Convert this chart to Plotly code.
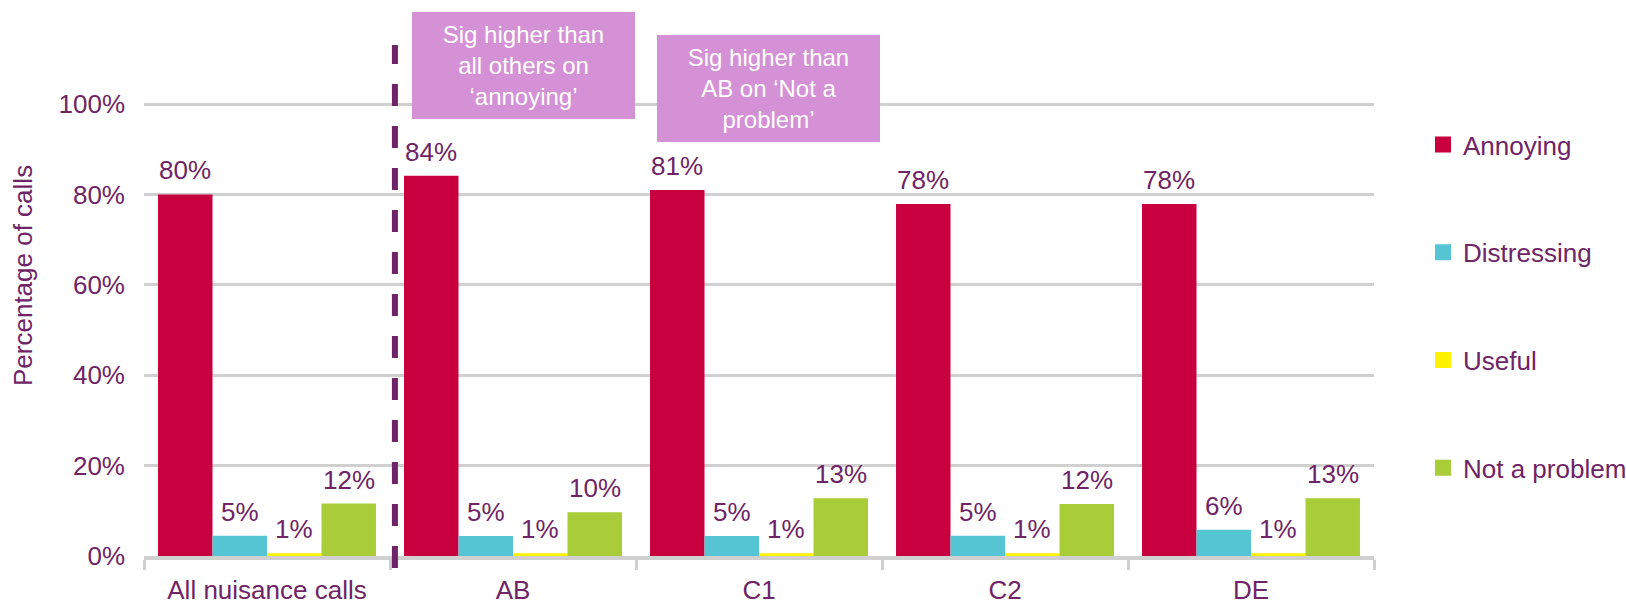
import plotly.graph_objects as go

categories = ["All nuisance calls", "AB", "C1", "C2", "DE"]
series_names = ["Annoying", "Distressing", "Useful", "Not a problem"]
annoying = [80.0, 84.1, 81.0, 77.9, 77.9]
distressing = [4.5, 4.4, 4.4, 4.5, 5.8]
useful = [0.6, 0.6, 0.6, 0.6, 0.6]
not_a_problem = [11.6, 9.7, 12.8, 11.5, 12.8]
annoying_labels = ["80%", "84%", "81%", "78%", "78%"]
distressing_labels = ["5%", "5%", "5%", "5%", "6%"]
useful_labels = ["1%", "1%", "1%", "1%", "1%"]
not_a_problem_labels = ["12%", "10%", "13%", "12%", "13%"]
y_tick_values = [0, 20, 40, 60, 80, 100]
y_tick_labels = ["0%", "20%", "40%", "60%", "80%", "100%"]
y_axis_title = "Percentage of calls"
note_ab = "Sig higher than<br>all others on<br>\u2018annoying\u2019"
note_c1 = "Sig higher than<br>AB on \u2018Not a<br>problem\u2019"

PURPLE = "#6E2466"
GRID = "#D0D0D0"
colors = ["#C8003F", "#55C5D3", "#FFF200", "#A8CD38"]
FONT = "Liberation Sans, Arial, sans-serif"
FS = 26

values = [annoying, distressing, useful, not_a_problem]
labels = [annoying_labels, distressing_labels, useful_labels, not_a_problem_labels]

# plot area geometry (px)
W, H = 1626, 608
L, R, T, B = 144, 252, 100, 52
pw = W - L - R
ph = H - T - B
y_top = ph / 4.52  # 4.52 px per percentage point

BARGAP = 0.114
n_series = len(series_names)
bar_px = pw / len(categories) * (1 - BARGAP) / n_series

def px_x(x):
    return (x - L) / pw

def px_y(y):
    return (H - B - y) / ph

fig = go.Figure()
for name, vals, col in zip(series_names, values, colors):
    fig.add_trace(go.Bar(
        name=name, x=categories, y=vals, offsetgroup=name,
        marker=dict(color=col, line=dict(width=0)),
        showlegend=False, hoverinfo="skip",
    ))
# legend entries (larger square swatches), sharing the bars' offset groups
for name, col in zip(series_names, colors):
    fig.add_trace(go.Bar(
        name=name, x=[None], y=[None], offsetgroup=name,
        marker=dict(color=col, line=dict(width=4, color=col)),
        legendgroup=name, showlegend=True, hoverinfo="skip",
    ))

# data labels above bars
for i, (vals, labs) in enumerate(zip(values, labels)):
    for cat, v, lab in zip(categories, vals, labs):
        fig.add_annotation(
            x=cat, y=v, xref="x", yref="y", text=lab, showarrow=False,
            xanchor="center", yanchor="bottom",
            xshift=(i - (n_series - 1) / 2) * bar_px, yshift=7,
            font=dict(size=FS, color=PURPLE, family=FONT),
        )

fig.update_layout(
    width=W, height=H,
    margin=dict(l=L, r=R, t=T, b=B, pad=0, autoexpand=False),
    barmode="group", bargap=BARGAP, bargroupgap=0,
    plot_bgcolor="white", paper_bgcolor="white",
    font=dict(family=FONT, size=FS, color=PURPLE),
    legend=dict(
        x=px_x(1423), y=px_y(121), xanchor="left", yanchor="top",
        font=dict(size=FS, color=PURPLE, family=FONT),
        traceorder="grouped", tracegroupgap=71,
        bgcolor="rgba(0,0,0,0)", borderwidth=0,
    ),
    xaxis=dict(
        showline=True, linecolor=GRID, linewidth=4,
        ticks="outside", tickson="boundaries", ticklen=10, tickwidth=3, tickcolor=GRID,
        showgrid=False, zeroline=False, automargin=False,
        tickfont=dict(size=FS, color=PURPLE, family=FONT),
        ticklabelstandoff=8,
    ),
    yaxis=dict(
        range=[0, y_top], tickvals=y_tick_values, ticktext=y_tick_labels,
        showgrid=True, gridcolor=GRID, gridwidth=3,
        zeroline=False, showline=False, ticks="", automargin=False,
        tickfont=dict(size=FS, color=PURPLE, family=FONT),
        ticklabelstandoff=18,
    ),
    showlegend=True,
)

fig.add_annotation(
    text=y_axis_title, textangle=-90, showarrow=False,
    xref="paper", yref="paper", x=px_x(23), y=px_y(276),
    xanchor="center", yanchor="middle",
    font=dict(size=FS, color=PURPLE, family=FONT),
)

for txt, cx, cy in [(note_ab, 523.5, 65.5), (note_c1, 768.5, 88.5)]:
    fig.add_annotation(
        text=txt, showarrow=False, xref="paper", yref="paper",
        x=px_x(cx), y=px_y(cy), xanchor="center", yanchor="middle",
        width=223, height=107, bgcolor="#D491D6", borderwidth=0, borderpad=0,
        align="center", valign="middle",
        font=dict(size=24, color="white", family=FONT),
    )

fig.add_shape(
    type="line", xref="x", yref="paper",
    x0=0.52, x1=0.52, y0=px_y(568), y1=px_y(45),
    line=dict(color=PURPLE, width=6, dash="22px,20px"),
)

fig.write_html("out.html")
